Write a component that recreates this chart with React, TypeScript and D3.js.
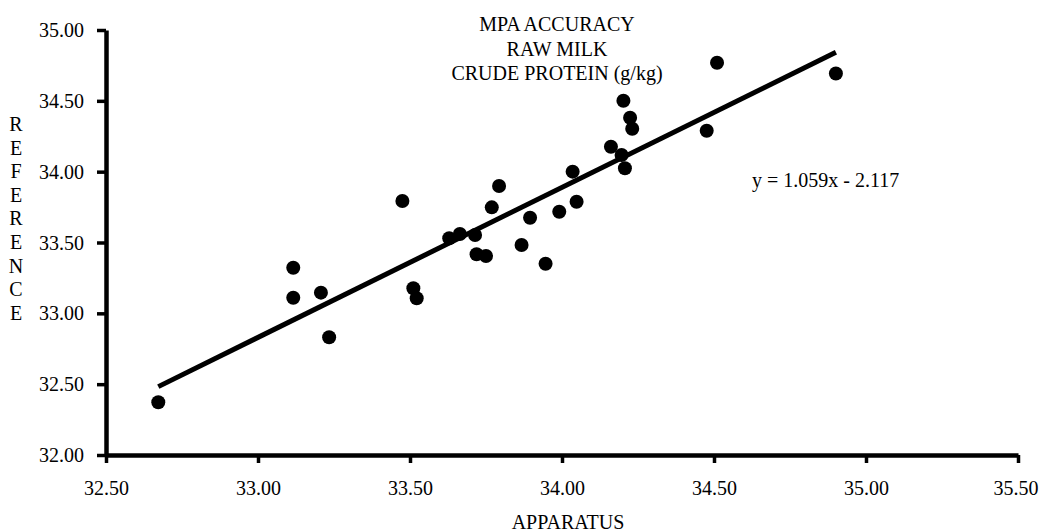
import React, { useEffect, useRef } from 'react';
import * as d3 from 'd3';

// readings of the MPA accuracy plot (apparatus vs reference, g/kg)
const apparatus = [
  32.672, 33.116, 33.116, 33.207, 33.234, 33.475, 33.511, 33.522, 33.629, 33.664,
  33.714, 33.719, 33.75, 33.769, 33.793, 33.867, 33.895, 33.946, 33.991, 34.048,
  34.035, 34.161, 34.196, 34.207, 34.202, 34.224, 34.231, 34.476, 34.51, 34.901,
];
const reference = [
  32.372, 33.322, 33.11, 33.146, 32.831, 33.793, 33.177, 33.106, 33.53, 33.56,
  33.553, 33.417, 33.405, 33.748, 33.899, 33.482, 33.675, 33.35, 33.717, 33.788,
  34.0, 34.176, 34.118, 34.024, 34.501, 34.381, 34.303, 34.289, 34.769, 34.693,
];
const xTicks = [32.5, 33.0, 33.5, 34.0, 34.5, 35.0, 35.5];
const yTicks = [32.0, 32.5, 33.0, 33.5, 34.0, 34.5, 35.0];
const titleLines = ['MPA ACCURACY', 'RAW MILK', 'CRUDE PROTEIN (g/kg)'];
const slope = 1.059;
const intercept = -2.117;
const equation = 'y = 1.059x - 2.117';
const xTitle = 'APPARATUS';
const yTitle = 'REFERENCE';

const FONT = '"Liberation Serif", "Times New Roman", serif';

const App = () => {
  const ref = useRef<SVGSVGElement>(null);

  useEffect(() => {
    const svg = d3.select(ref.current);
    svg.selectAll('*').remove();

    const width = 1039, height = 532;
    svg.attr('width', width).attr('height', height);

    const x = d3.scaleLinear().domain([32.5, 35.5]).range([106, 1018]);
    const y = d3.scaleLinear().domain([32, 35]).range([455, 30]);

    // x axis
    const gx = svg.append('g')
      .attr('transform', `translate(0,${y(32)})`)
      .call(d3.axisBottom(x).tickValues(xTicks).tickFormat(d3.format('.2f')).tickSize(8).tickSizeOuter(0).tickPadding(18));
    // y axis
    const gy = svg.append('g')
      .attr('transform', `translate(${x(32.5)},0)`)
      .call(d3.axisLeft(y).tickValues(yTicks).tickFormat(d3.format('.2f')).tickSize(9).tickSizeOuter(0).tickPadding(13));

    [gx, gy].forEach(g => {
      g.select('.domain').attr('stroke', '#000').attr('stroke-width', 4.5);
      g.selectAll('.tick line').attr('stroke', '#000').attr('stroke-width', 3.5);
      g.selectAll('.tick text')
        .attr('font-family', FONT)
        .attr('font-size', 20)
        .attr('fill', '#000');
    });
    gy.selectAll('.tick text').attr('dy', '0.33em');
    // last label sits against the right edge of the picture
    gx.selectAll('.tick text')
      .filter(d => d === xTicks[xTicks.length - 1])
      .attr('text-anchor', 'end')
      .attr('x', width - 1 - x(xTicks[xTicks.length - 1]));

    // regression line over the data range
    const [x0, x1] = d3.extent(apparatus) as [number, number];
    svg.append('line')
      .attr('x1', x(x0)).attr('y1', y(slope * x0 + intercept))
      .attr('x2', x(x1)).attr('y2', y(slope * x1 + intercept))
      .attr('stroke', '#000')
      .attr('stroke-width', 5);

    // points
    svg.append('g')
      .selectAll('circle')
      .data(apparatus)
      .join('circle')
      .attr('cx', d => x(d))
      .attr('cy', (d, i) => y(reference[i]))
      .attr('r', 7)
      .attr('fill', '#000');

    // title
    svg.append('g')
      .selectAll('text')
      .data(titleLines)
      .join('text')
      .attr('x', 557)
      .attr('y', (d, i) => 31 + i * 24.5)
      .attr('text-anchor', 'middle')
      .attr('font-family', FONT)
      .attr('font-size', 20)
      .text(d => d);

    svg.append('text')
      .attr('x', 752)
      .attr('y', 187)
      .attr('font-family', FONT)
      .attr('font-size', 20)
      .text(equation);

    svg.append('text')
      .attr('x', 568)
      .attr('y', 529)
      .attr('text-anchor', 'middle')
      .attr('font-family', FONT)
      .attr('font-size', 20)
      .text(xTitle);

    svg.append('g')
      .selectAll('text')
      .data(yTitle.split(''))
      .join('text')
      .attr('x', 16)
      .attr('y', (d, i) => 131 + i * 23.6)
      .attr('text-anchor', 'middle')
      .attr('font-family', FONT)
      .attr('font-size', 20)
      .text(d => d);
  }, []);

  return <svg ref={ref} style={{ position: 'absolute', left: 0, top: 0 }}></svg>;
};

export default App;
